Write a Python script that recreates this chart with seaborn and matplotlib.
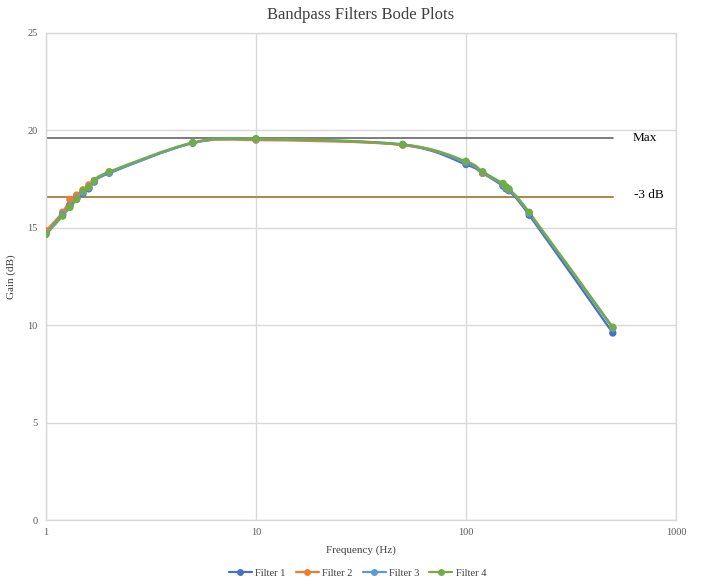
import numpy as np
import pandas as pd
import matplotlib
matplotlib.use("Agg")
import matplotlib.pyplot as plt
import seaborn as sns
from matplotlib.path import Path
from matplotlib.patches import PathPatch
from matplotlib.lines import Line2D

freq = [1, 1.2, 1.3, 1.4, 1.5, 1.6, 1.7, 2, 5, 10, 50, 100, 120, 150, 155, 160, 200, 500]
filter1 = [14.75, 15.65, 16.15, 16.5, 16.75, 17.0, 17.35, 17.8, 19.35, 19.55, 19.25, 18.25, 17.8, 17.15, 17.0, 16.9, 15.65, 9.6]
filter2 = [14.85, 15.8, 16.45, 16.68, 16.95, 17.2, 17.42, 17.85, 19.35, 19.5, 19.25, 18.35, 17.8, 17.25, 17.1, 16.95, 15.75, 9.85]
filter3 = [14.7, 15.7, 16.1, 16.5, 16.8, 17.05, 17.38, 17.82, 19.35, 19.55, 19.28, 18.35, 17.85, 17.2, 17.05, 16.95, 15.75, 9.85]
filter4 = [14.65, 15.6, 16.05, 16.45, 16.9, 17.1, 17.42, 17.88, 19.38, 19.58, 19.28, 18.42, 17.88, 17.28, 17.1, 17.0, 15.8, 9.9]
series_names = ["Filter 1", "Filter 2", "Filter 3", "Filter 4"]
colors = ["#4472C4", "#ED7D31", "#5B9BD5", "#70AD47"]

ref_x = [1, 500]
max_gain = [19.6, 19.6]
minus3 = [16.6, 16.6]

rows = []
for name, vals in zip(series_names, [filter1, filter2, filter3, filter4]):
    for f, g in zip(freq, vals):
        rows.append({"Frequency": f, "Gain": g, "Series": name})
df = pd.DataFrame(rows)

sns.set_theme(style="white")
plt.rcParams["font.family"] = ["Liberation Serif", "DejaVu Serif"]

fig = plt.figure(figsize=(7.01, 5.85), dpi=100)
ax = fig.add_axes([46 / 701, 1 - 520 / 585, 630 / 701, 487 / 585])
ax.set_xscale("log")
ax.set_xlim(1, 1000)
ax.set_ylim(0, 25)

# reference lines
ax.plot(ref_x, max_gain, color="#666666", lw=1.2, zorder=2)
ax.plot(ref_x, minus3, color="#A98C47", lw=1.5, zorder=2)
ax.text(622, max_gain[1], "Max", fontsize=9.5, color="black", va="center", ha="left")
ax.text(632, minus3[1] + 0.1, "-3 dB", fontsize=9.5, color="black", va="center", ha="left")


def smooth_path(xs, ys):
    u = np.log10(np.asarray(xs, float))
    v = np.asarray(ys, float)
    n = len(u)
    verts = [(u[0], v[0])]
    codes = [Path.MOVETO]
    for i in range(n - 1):
        p0 = np.array([u[max(i - 1, 0)], v[max(i - 1, 0)]])
        p1 = np.array([u[i], v[i]])
        p2 = np.array([u[i + 1], v[i + 1]])
        p3 = np.array([u[min(i + 2, n - 1)], v[min(i + 2, n - 1)]])
        c1 = p1 + (p2 - p0) / 6
        c2 = p2 - (p3 - p1) / 6
        verts += [tuple(c1), tuple(c2), tuple(p2)]
        codes += [Path.CURVE4] * 3
    verts = [(10 ** a, b) for a, b in verts]
    return Path(verts, codes)


for name, col in zip(series_names, colors):
    sub = df[df["Series"] == name]
    patch = PathPatch(smooth_path(sub["Frequency"], sub["Gain"]), fill=False,
                      edgecolor=col, lw=1.6, transform=ax.transData, zorder=3,
                      capstyle="round", joinstyle="round")
    ax.add_patch(patch)
    sns.scatterplot(data=sub, x="Frequency", y="Gain", color=col, s=28,
                    edgecolor="none", ax=ax, zorder=4, legend=False)

ax.set_xticks([1, 10, 100, 1000])
ax.set_xticklabels(["1", "10", "100", "1000"])
ax.set_yticks([0, 5, 10, 15, 20, 25])
ax.minorticks_off()
ax.grid(True, which="major", color="#D9D9D9", lw=1)
for s in ax.spines.values():
    s.set_color("#D9D9D9")
    s.set_linewidth(1)
ax.tick_params(axis="both", labelsize=7.5, colors="#595959", length=0, pad=6)
ax.set_xlabel("Frequency (Hz)", fontsize=8, color="#404040", labelpad=6)
ax.set_ylabel("Gain (dB)", fontsize=8, color="#404040", labelpad=8)
ax.set_title("Bandpass Filters Bode Plots", fontsize=12, color="#404040", pad=10)

handles = [Line2D([0], [0], color=c, lw=1.6, marker="o", markersize=5,
                  markeredgewidth=0) for c in colors]
fig.legend(handles, series_names, loc="center", bbox_to_anchor=(0.51, 1 - 573 / 585),
           ncol=4, frameon=False, fontsize=7.5, handlelength=2.2,
           columnspacing=1.0, handletextpad=0.3, labelcolor="#404040")

fig.savefig("out.png", dpi=100)
